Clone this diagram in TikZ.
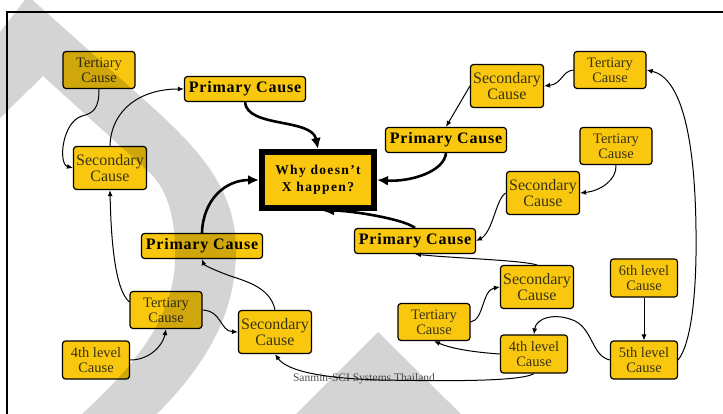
\documentclass[tikz,border=0pt]{standalone}
\usepackage{fontspec}
\setmainfont{Liberation Serif}
\newfontfamily\spacedserif[LetterSpace=10]{Liberation Serif}
\newfontfamily\primserif[LetterSpace=5]{Liberation Serif}
\usetikzlibrary{arrows.meta}
\definecolor{causefill}{HTML}{F9C80E}
\definecolor{causetext}{HTML}{3A3314}
\definecolor{footgrey}{HTML}{505050}
\begin{document}
\begin{tikzpicture}[x=1pt,y=-1pt,
  cause/.style={draw=black,line width=1.2pt,fill=causefill,rounded corners=3pt,
    align=center,inner sep=0pt,text=causetext,font=\fontsize{14.5}{15}\selectfont},
  tert/.style={cause,minimum width=72pt,minimum height=37pt},
  lvl/.style={cause,minimum width=67pt,minimum height=38pt},
  second/.style={cause,minimum width=73pt,minimum height=43pt,font=\fontsize{16}{16.5}\selectfont},
  prim/.style={cause,minimum width=121pt,minimum height=25pt,text=black,
    font=\primserif\bfseries\fontsize{16}{16}\selectfont},
  root/.style={draw=black,line width=6pt,fill=causefill,align=center,inner sep=0pt,
    minimum width=112pt,minimum height=56pt,text=black,
    font=\spacedserif\bfseries\fontsize{13.5}{17}\selectfont},
  link/.style={line width=1pt,-{Latex[length=6pt,width=5pt]}},
  fine/.style={line width=0.8pt,-{Latex[length=6pt,width=5pt]}},
  heavy/.style={line width=2.6pt,-{Latex[length=11pt,width=10pt]}},
  shade/.style={fill=black,opacity=0.17}
]
\useasboundingbox (0,0) rectangle (723,414);

% page frame
\draw[line width=1.2pt] (7,420) -- (7,12) -- (730,12);

% nodes
\node[tert]   (tertTL) at (99,70)  {Tertiary\\Cause};
\node[prim]   (primT)  at (245,89) {Primary Cause};
\node[second] (secL)   at (110,168) {Secondary\\Cause};
\node[root]   (why)    at (318,180) {Why doesn’t\\X happen?};
\node[prim]   (primL)  at (202,246) {Primary Cause};
\node[tert]   (tertBL) at (166,310) {Tertiary\\Cause};
\node[second] (secBL)  at (275,332) {Secondary\\Cause};
\node[lvl]    (fourL)  at (96,360) {4th level\\Cause};

\node[second] (secTR)  at (507,86) {Secondary\\Cause};
\node[tert]   (tertTR) at (610,70) {Tertiary\\Cause};
\node[prim]   (primR)  at (446,140) {Primary Cause};
\node[tert]   (tertR2) at (616,146) {Tertiary\\Cause};
\node[second] (secR2)  at (543,193) {Secondary\\Cause};
\node[prim]   (primBR) at (415,241) {Primary Cause};
\node[second] (secBR)  at (537,287) {Secondary\\Cause};
\node[tert]   (tertBR) at (434,322) {Tertiary\\Cause};
\node[lvl]    (fourR)  at (534,354) {4th level\\Cause};
\node[lvl]    (six)    at (644,278) {6th level\\Cause};
\node[lvl]    (five)   at (644,360) {5th level\\Cause};

\node[text=footgrey,font=\fontsize{11.5}{12}\selectfont,inner sep=0pt] (foot) at (364,379) {Sanmin-SCI Systems Thailand};

% connectors, left cluster
\draw[link] (tertTL.south) .. controls (99,108) and (94,113) .. (82,116)
  .. controls (62,122) and (58,164) .. (secL.west);
\draw[link] (secL.north) .. controls (111,110) and (140,89) .. (primT.west);
\draw[heavy] (primT.south) .. controls (247,128) and (312,118) .. (why.north);
\draw[heavy] (primL.north) .. controls (203,200) and (225,180) .. (why.west);
\draw[link] ([yshift=8pt]tertBL.west) .. controls (115,290) and (111,240) .. (secL.south);
\draw[link] (fourL.east) .. controls (150,360) and (163,345) .. (tertBL.south);
\draw[link] (tertBL.east) .. controls (222,311) and (220,331) .. (secBL.west);
\draw[link] (secBL.north) .. controls (270,285) and (240,280) .. (225,274)
  .. controls (212,269) and (204,265) .. (primL.south);

% connectors, right cluster
\draw[heavy] (primR.south) .. controls (444,172) and (410,182) .. (why.east);
\draw[heavy] (primBR.north) .. controls (402,218) and (345,210) .. ([xshift=5pt]why.south);
\draw[link] (secTR.west) -- (primR.north);
\draw[link] (tertTR.west) .. controls (562,71) and (562,84) .. (secTR.east);
\draw[link] (five.east) .. controls (690,345) and (697,300) .. (696,230)
  .. controls (695,140) and (682,78) .. (tertTR.east);
\draw[link] (tertR2.south) .. controls (617,180) and (600,191) .. (secR2.east);
\draw[link] (secR2.west) .. controls (496,198) and (493,232) .. (primBR.east);
\draw[link] (secBR.north) .. controls (520,260) and (450,258) .. (primBR.south);
\draw[link] (tertBR.east) .. controls (484,320) and (482,290) .. (secBR.west);
\draw[link] (fourR.west) .. controls (470,352) and (450,348) .. (tertBR.south);
\draw[link] (five.west) .. controls (592,356) and (593,330) .. (575,321)
  .. controls (555,312) and (536,318) .. (fourR.north);
\draw[fine] (six.south) -- (five.north);
\draw[link] (fourR.south) .. controls (520,382) and (440,381) .. (380,380)
  .. controls (310,378) and (285,368) .. (secBL.south);

% translucent backdrop shapes laid over the chart
\begin{scope}
  \clip (0,0) rectangle (723,414);
  \fill[shade] (-10,45) -- (28,-4) -- (150,105)
    .. controls (200,150) and (236,190) .. (236,250)
    .. controls (236,320) and (200,370) .. (157,414) -- (140,440) -- (65,440)
    -- (82,414) .. controls (130,370) and (174,320) .. (175,260)
    .. controls (176,225) and (170,192) .. (150,173)
    -- (43,76) -- (-10,128) -- cycle;
  \fill[shade] (286,424) -- (378,332) -- (471,424) -- cycle;
\end{scope}
\end{tikzpicture}
\end{document}
